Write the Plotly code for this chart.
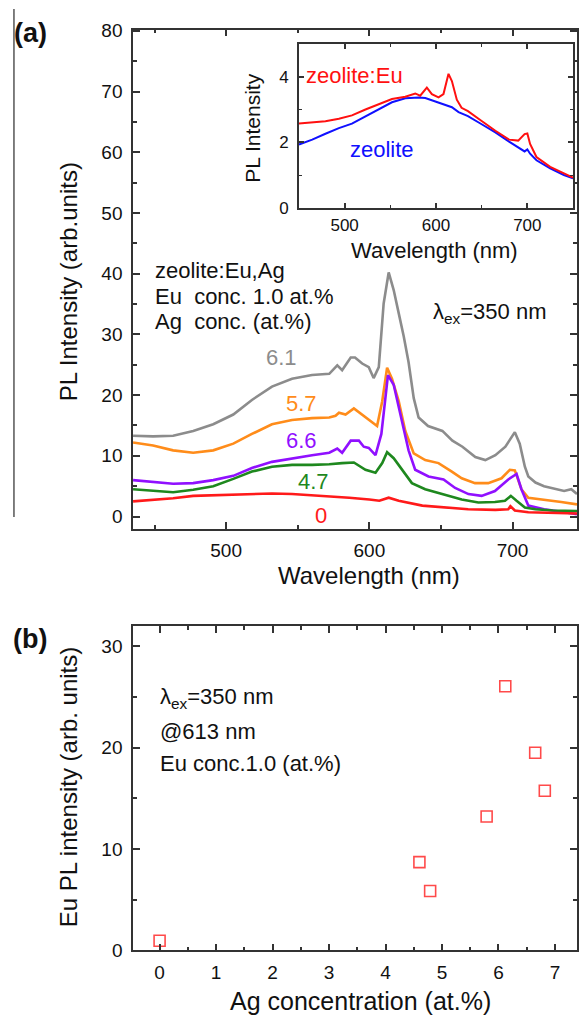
import plotly.graph_objects as go

W, H = 579, 1026
FONT = "Liberation Sans, Arial, sans-serif"

# ---------------- panel (a) main spectra ----------------
wl_61 = [435, 449, 463, 477, 491, 505, 518, 532, 546, 560, 572, 577.6, 581, 587, 590, 595, 599.6, 603, 606.6,
         610, 613.5, 617, 620.5, 624, 627.4, 631, 634.4, 641, 651, 658, 665, 674, 681, 688, 695, 701.6, 705,
         708.6, 711, 716, 722, 729, 736, 741, 745]
pl_61 = [13.3, 13.2, 13.3, 14.1, 15.2, 16.8, 19.2, 21.4, 22.7, 23.3, 23.5, 24.9, 24.1, 26.2, 26.2, 25.2, 24.6,
         22.8, 24.6, 35.1, 40.2, 37.3, 33.5, 29.7, 25.4, 19.5, 16.3, 14.9, 14.1, 12.5, 11.5, 9.8, 9.3, 10.1, 11.5,
         13.9, 12.0, 8.2, 6.6, 5.6, 5.0, 4.6, 4.2, 4.5, 3.7]

wl_57 = [435, 449, 463, 477, 491, 505, 518, 532, 546, 560, 572, 576.4, 578.8, 583.4, 589.2, 595, 599.6, 605.4,
         609, 612.4, 615.8, 620.5, 625.1, 631, 639, 648.3, 657.6, 664.5, 673.8, 683, 692.3, 698.1, 701.6, 706.2,
         711, 722, 734, 745]
pl_57 = [12.2, 11.7, 10.9, 10.5, 10.9, 12.0, 13.6, 15.2, 15.9, 16.2, 16.3, 16.6, 17.1, 16.8, 17.8, 16.8, 16.0,
         14.9, 19.0, 24.5, 22.7, 19.0, 14.1, 10.4, 9.3, 8.8, 7.4, 6.3, 5.5, 5.5, 6.3, 7.7, 7.6, 4.5, 3.1, 2.8,
         2.4, 2.0]

wl_66 = [435, 449, 463, 477, 491, 505, 518, 532, 546, 560, 572, 577.6, 581, 587, 592.7, 596.1, 599.6, 604.3,
         608.4, 613, 617, 621.6, 627.4, 632, 641.3, 651.8, 659.9, 669.2, 678.4, 687.7, 697, 702.8, 706.2, 711,
         722, 734, 745]
pl_66 = [6.0, 5.7, 5.4, 5.5, 6.0, 6.7, 8.0, 9.0, 9.6, 10.1, 10.5, 11.2, 10.5, 12.5, 12.5, 11.5, 11.3, 10.1,
         13.6, 23.3, 21.7, 16.8, 10.9, 7.7, 6.6, 6.1, 4.7, 3.7, 3.4, 4.2, 6.1, 7.0, 4.5, 1.8, 1.2, 0.8, 0.4]

wl_47 = [435, 449, 463, 477, 491, 505, 518, 532, 546, 560, 572, 581, 589.2, 597.3, 604.3, 609, 612.4, 617,
         622.8, 629.7, 639, 650.6, 664.5, 676.1, 687.7, 694.7, 698.8, 702.8, 708.6, 716, 728, 745]
pl_47 = [4.5, 4.2, 4.0, 4.4, 5.0, 6.2, 7.4, 8.2, 8.5, 8.5, 8.6, 8.8, 8.9, 7.7, 7.2, 8.8, 10.6, 9.6, 7.7, 5.5,
         4.5, 3.7, 2.8, 2.3, 2.4, 2.6, 3.4, 2.6, 1.5, 1.2, 1.0, 0.9]

wl_0 = [435, 449, 463, 477, 491, 505, 518, 532, 546, 560, 572, 586, 600, 607, 613.5, 620.5, 637, 653, 669, 688,
        697, 698.5, 701.6, 711, 725, 745]
pl_0 = [2.5, 2.7, 3.0, 3.4, 3.5, 3.7, 3.8, 3.8, 3.7, 3.5, 3.3, 3.1, 2.8, 2.6, 3.1, 2.6, 1.8, 1.5, 1.2, 1.1,
        1.2, 1.7, 1.0, 0.7, 0.6, 0.5]

ag_labels = ["6.1", "5.7", "6.6", "4.7", "0"]
ag_colors = ["#8c8c8c", "#ff8c1a", "#9010ff", "#1e881e", "#ff1a1a"]

# ---------------- inset spectra ----------------
wl_eu = [450, 464.5, 479, 493.7, 508, 522.8, 537.3, 551.8, 566.4, 577.3, 582.7, 590, 595.5, 602.8, 608.2, 613.7,
         617.4, 622.8, 628, 635, 650, 665, 680, 690, 697, 700, 703, 710, 725, 740, 750]
pl_eu = [2.57, 2.6, 2.64, 2.72, 2.82, 3.0, 3.17, 3.32, 3.39, 3.49, 3.42, 3.67, 3.47, 3.37, 3.47, 4.09, 3.87,
         3.3, 3.05, 2.95, 2.65, 2.35, 2.08, 2.05, 2.25, 2.27, 1.95, 1.55, 1.25, 1.05, 0.92]

wl_zeo = [450, 464.5, 479, 493.7, 508, 522.8, 537.3, 551.8, 566.4, 581, 588.3, 602.8, 617.4, 624.7, 635, 650,
          665, 680, 690, 697, 700, 703, 710, 725, 740, 750]
pl_zeo = [1.93, 2.08, 2.26, 2.43, 2.57, 2.79, 3.02, 3.22, 3.34, 3.37, 3.35, 3.22, 3.07, 2.92, 2.8, 2.55, 2.3,
          2.02, 1.85, 1.72, 1.78, 1.65, 1.45, 1.2, 1.0, 0.9]

# ---------------- panel (b) ----------------
ag_conc = [0, 4.6, 4.79, 5.79, 6.12, 6.65, 6.82]
eu_pl_613 = [0.94, 8.7, 5.85, 13.2, 26.05, 19.5, 15.75]


def px(x, y):
    return x / W, 1 - y / H


fig = go.Figure()

main_sets = [(wl_61, pl_61), (wl_57, pl_57), (wl_66, pl_66), (wl_47, pl_47), (wl_0, pl_0)]
for (wl, pl), lab, col in zip(main_sets, ag_labels, ag_colors):
    fig.add_trace(go.Scatter(x=wl, y=pl, mode="lines", name=lab,
                             line=dict(color=col, width=2.6), xaxis="x", yaxis="y"))

fig.add_trace(go.Scatter(x=wl_zeo, y=pl_zeo, mode="lines", name="zeolite",
                         line=dict(color="#1010ff", width=2), xaxis="x2", yaxis="y2"))
fig.add_trace(go.Scatter(x=wl_eu, y=pl_eu, mode="lines", name="zeolite:Eu",
                         line=dict(color="#ff1010", width=2), xaxis="x2", yaxis="y2"))

fig.add_trace(go.Scatter(x=ag_conc, y=eu_pl_613, mode="markers", name="Eu PL",
                         marker=dict(symbol="square-open", size=11, color="#ff4a4a",
                                     line=dict(width=1.6, color="#ff4a4a")),
                         xaxis="x3", yaxis="y3"))

axis_common = dict(showline=True, linecolor="#333333", linewidth=1.5, mirror="ticks",
                   ticks="inside", tickcolor="#333333", tickwidth=1.5, showgrid=False,
                   zeroline=False,
                   tickfont=dict(family=FONT, size=19, color="#111111"))

# main (a)
xa0, ya_top = px(133.5, 21)
_, ya_bot = px(0, 530)
fig.update_layout(
    xaxis=dict(axis_common, domain=[xa0, 1.0], range=[435, 745], anchor="y",
               tickvals=[500, 600, 700], ticklen=7, ticklabelstandoff=4,
               minor=dict(tickvals=[450, 550, 650, 750], ticklen=4, ticks="inside",
                          tickcolor="#333333", tickwidth=1.5)),
    yaxis=dict(axis_common, domain=[ya_bot, ya_top], range=[-2, 80.2], anchor="x",
               tickvals=[0, 10, 20, 30, 40, 50, 60, 70, 80], ticklen=7, ticklabelstandoff=5,
               minor=dict(tickvals=[5, 15, 25, 35, 45, 55, 65, 75], ticklen=4, ticks="inside",
                          tickcolor="#333333", tickwidth=1.5)),
)

# inset
xi0, yi_top = px(300, 35.7)
xi1, yi_bot = px(575, 202.7)
fig.update_layout(
    xaxis2=dict(axis_common, domain=[xi0, xi1], range=[450, 750], anchor="y2",
                tickvals=[500, 600, 700], ticklen=5, ticklabelstandoff=1,
                tickfont=dict(family=FONT, size=17, color="#111111"),
                minor=dict(tickvals=[550, 650], ticklen=3, ticks="inside",
                           tickcolor="#333333", tickwidth=1.2)),
    yaxis2=dict(axis_common, domain=[yi_bot, yi_top], range=[0, 5], anchor="x2",
                tickvals=[0, 2, 4], ticklen=5, ticklabelstandoff=5,
                tickfont=dict(family=FONT, size=17, color="#111111"),
                minor=dict(tickvals=[1, 3, 5], ticklen=3, ticks="inside",
                           tickcolor="#333333", tickwidth=1.2)),
)

# panel (b)
xb0, yb_top = px(133.5, 629.3)
_, yb_bot = px(0, 960)
fig.update_layout(
    xaxis3=dict(axis_common, domain=[xb0, 1.0], range=[-0.47, 7.39], anchor="y3",
                tickvals=[0, 1, 2, 3, 4, 5, 6, 7], ticklen=7, ticklabelstandoff=4,
                minor=dict(tickvals=[0.5, 1.5, 2.5, 3.5, 4.5, 5.5, 6.5], ticklen=4, ticks="inside",
                           tickcolor="#333333", tickwidth=1.5)),
    yaxis3=dict(axis_common, domain=[yb_bot, yb_top], range=[0, 32], anchor="x3",
                tickvals=[0, 10, 20, 30], ticklen=7, ticklabelstandoff=5,
                minor=dict(tickvals=[5, 15, 25], ticklen=4, ticks="inside",
                           tickcolor="#333333", tickwidth=1.5)),
)

ann = []


def add_text(text, x, y, size, color="#111111", xanchor="left", textangle=0, bold=False):
    ax, ay = px(x, y)
    ann.append(dict(text=("<b>%s</b>" % text) if bold else text, x=ax, y=ay, xref="paper", yref="paper",
                    xanchor=xanchor, yanchor="middle", showarrow=False, textangle=textangle,
                    borderpad=0, font=dict(family=FONT, size=size, color=color)))


# panel labels
add_text("(a)", 13, 24, 27, bold=True)
add_text("(b)", 12, 643, 27, bold=True)

# main axis titles
add_text("Wavelength (nm)", 370, 578, 24, xanchor="center")
add_text("PL Intensity (arb.units)", 69, 278, 24, xanchor="center", textangle=-90)

# inset axis titles
add_text("Wavelength (nm)", 436, 246, 22, xanchor="center")
add_text("PL Intensity", 253, 122, 21, xanchor="center", textangle=-90)
add_text("zeolite:Eu", 306, 68, 22, color="#ff1010")
add_text("zeolite", 350, 143, 22, color="#1010ff")

# main annotations
add_text("zeolite:Eu,Ag", 155, 267, 22)
add_text("Eu  conc. 1.0 at.%", 155, 293, 22)
add_text("Ag  conc. (at.%)", 155, 319, 22)
add_text("λ<sub>ex</sub>=350 nm", 433, 310, 22)

label_pos = [(282, 355), (303, 402), (303, 440), (315, 482), (322, 517)]
for lab, col, (lx, ly) in zip(ag_labels, ag_colors, label_pos):
    add_text(lab, lx, ly, 22, color=col, xanchor="center")

# panel (b) texts
add_text("Eu PL intensity (arb. units)", 69, 793, 24, xanchor="center", textangle=-90)
add_text("Ag concentration (at.%)", 362, 1012, 25, xanchor="center")
add_text("λ<sub>ex</sub>=350 nm", 160, 703, 22)
add_text("@613 nm", 160, 737, 22)
add_text("Eu conc.1.0 (at.%)", 160, 769, 22)

lx, ly0 = px(14, 0)
_, ly1 = px(14, 518)

fig.update_layout(
    width=W, height=H, autosize=False,
    margin=dict(l=0, r=0, t=0, b=0),
    paper_bgcolor="white", plot_bgcolor="white",
    showlegend=False,
    font=dict(family=FONT, color="#111111"),
    annotations=ann,
    shapes=[dict(type="line", xref="paper", yref="paper", x0=lx, x1=lx, y0=ly0, y1=ly1,
                 line=dict(color="#555555", width=1.5))],
)

fig.write_html("out.html", config={"displayModeBar": False},
               post_script="document.body.style.margin='0';document.body.style.overflow='hidden';")
